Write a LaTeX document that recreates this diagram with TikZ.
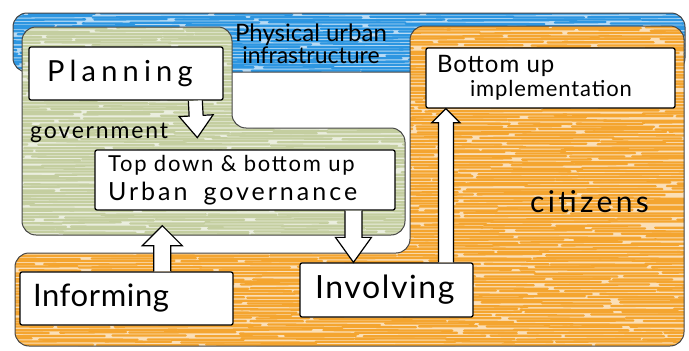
\documentclass[tikz,border=0pt]{standalone}
\usepackage{fontspec}
\setmainfont{Lato}
\usetikzlibrary{calc}
\definecolor{skyblue}{RGB}{45,150,225}
\definecolor{govgreen}{RGB}{196,206,160}
\definecolor{citorange}{RGB}{244,165,48}
\definecolor{outl}{RGB}{70,70,70}
\tikzset{
  regionline/.style={draw=outl, line width=1pt, rounded corners=14pt},
  boxnode/.style={draw=black, fill=white, line width=1.3pt, rounded corners=2pt, align=left, inner ysep=0pt},
  barrow/.style={draw=black, fill=white, line width=1.2pt, line join=miter},
  hand/.style={text=black, inner sep=0pt},
  hatch/.style={line width=2.3pt, line cap=round},
}
% #1 source, #2 tip, #3 shaft half width, #4 head half width, #5 head length
\newcommand\blockarrow[5]{%
  \coordinate (ba-h) at ($(#2)!#5!(#1)$);
  \filldraw[barrow] ($(#1)!#3!90:(#2)$) -- ($(ba-h)!#3!90:(#2)$) -- ($(ba-h)!#4!90:(#2)$) -- (#2)
     -- ($(ba-h)!#4!-90:(#2)$) -- ($(ba-h)!#3!-90:(#2)$) -- ($(#1)!#3!-90:(#2)$);
}
% #1 colour, #2 first y, #3 last y
\newcommand\hatchlines[3]{%
  \fill[#1!35!white] (0,0) rectangle (689,351);
  \foreach \yy in {#2,...,#3}{%
    \pgfmathsetmacro\cstart{-30-60*rnd}%
    \xdef\hcur{\cstart}%
    \foreach \k in {1,...,9}{%
      \pgfmathsetmacro\xa{\hcur+16*rnd-4}%
      \pgfmathsetmacro\xb{\xa+50+90*rnd}%
      \pgfmathsetmacro\ya{\yy+1.4*rnd-0.7}%
      \pgfmathsetmacro\yb{\ya+1.2*rnd-0.6}%
      \draw[hatch, #1] (\xa,\ya) -- (\xb,\yb);
      \xdef\hcur{\xb}%
    }%
  }%
}
\begin{document}
\begin{tikzpicture}[x=1pt,y=-1pt]
\pgfmathsetseed{11}
\useasboundingbox (0,0) rectangle (689,351);
% physical urban infrastructure
\begin{scope}
  \clip[rounded corners=14pt] (13,72) -- (13,13) -- (685,13) -- (685,72) -- cycle;
  \hatchlines{skyblue}{14,17}{72}
\end{scope}
\draw[regionline] (13,72) -- (13,13) -- (685,13) -- (685,72) -- cycle;
% government region
\begin{scope}
  \clip[rounded corners=14pt] (22,27) -- (232,27) -- (232,128) -- (405,128) -- (405,235) -- (22,235) -- cycle;
  \hatchlines{govgreen}{28,31}{235}
\end{scope}
\draw[regionline] (22,27) -- (232,27) -- (232,128) -- (405,128) -- (405,235) -- (22,235) -- cycle;
% citizens region
\begin{scope}
  \clip[rounded corners=14pt] (410,26) -- (684,26) -- (684,346) -- (15,346) -- (15,253) -- (410,253) -- cycle;
  \hatchlines{citorange}{27,30}{346}
\end{scope}
\draw[regionline] (410,26) -- (684,26) -- (684,346) -- (15,346) -- (15,253) -- (410,253) -- cycle;
% boxes
\node[boxnode, inner xsep=18pt, text width=158pt, minimum height=53pt,
      font={\fontsize{29}{32}\selectfont\addfontfeature{LetterSpace=18}}] (plan) at (126,73.5) {Planning};
\node[boxnode, inner xsep=13pt, text width=274pt, minimum height=60pt,
      font={\fontsize{22}{29}\selectfont}] (gov) at (245,180)
  {{\addfontfeature{LetterSpace=8}Top down \& bottom up}\\{\fontsize{25}{29}\selectfont\addfontfeature{LetterSpace=12}Urban\hspace{16pt}governance}};
\node[boxnode, inner xsep=13pt, text width=187pt, minimum height=53pt,
      font={\fontsize{31}{34}\selectfont\addfontfeature{LetterSpace=2}}] (inf) at (126.5,298.5) {Informing};
\node[boxnode, inner xsep=15pt, text width=143pt, minimum height=54pt,
      font={\fontsize{32}{34}\selectfont\addfontfeature{LetterSpace=5}}] (inv) at (386.5,290) {Involving};
\node[boxnode, inner xsep=11pt, text width=227pt, minimum height=60pt,
      font={\fontsize{22}{24}\selectfont\addfontfeature{LetterSpace=4}}] (bup) at (550.5,78)
  {{\fontsize{24}{24}\selectfont Bottom up}\\\hspace*{33pt}implementation};
% free texts
\node[hand, anchor=base west, font={\fontsize{23}{26}\selectfont\addfontfeature{LetterSpace=8}}] (govt) at (30,138) {government};
\node[hand, anchor=base west, font={\fontsize{30}{32}\selectfont\addfontfeature{LetterSpace=11}}] (cit) at (530,212) {citizens};
\node[hand, align=center, font={\fontsize{24}{22}\selectfont}] (phys) at (311,44) {Physical urban\\{\fontsize{23}{22}\selectfont infrastructure}};
% block arrows
\coordinate (a1s) at ($(plan.south west)!0.855!(plan.south east)$);
\coordinate (a1e) at ($(a1s)+(2,37)$);
\blockarrow{a1s}{a1e}{7pt}{17pt}{22pt}
\coordinate (a2s) at ($(gov.south west)!0.86!(gov.south east)$);
\coordinate (a2e) at (a2s |- inv.north);
\blockarrow{a2s}{a2e}{8.5pt}{18pt}{25pt}
\coordinate (a3s) at ($(inf.south west)!0.667!(inf.south east)$);
\coordinate (a3s) at (a3s |- inf.north);
\coordinate (a3e) at ($(a3s |- gov.south)+(0,15)$);
\blockarrow{a3s}{a3e}{8.5pt}{20pt}{20pt}
\coordinate (a4s) at ($(inv.north west)!0.841!(inv.north east)$);
\coordinate (a4e) at (a4s |- bup.south);
\blockarrow{a4s}{a4e}{7.5pt}{14pt}{14pt}
\end{tikzpicture}
\end{document}
